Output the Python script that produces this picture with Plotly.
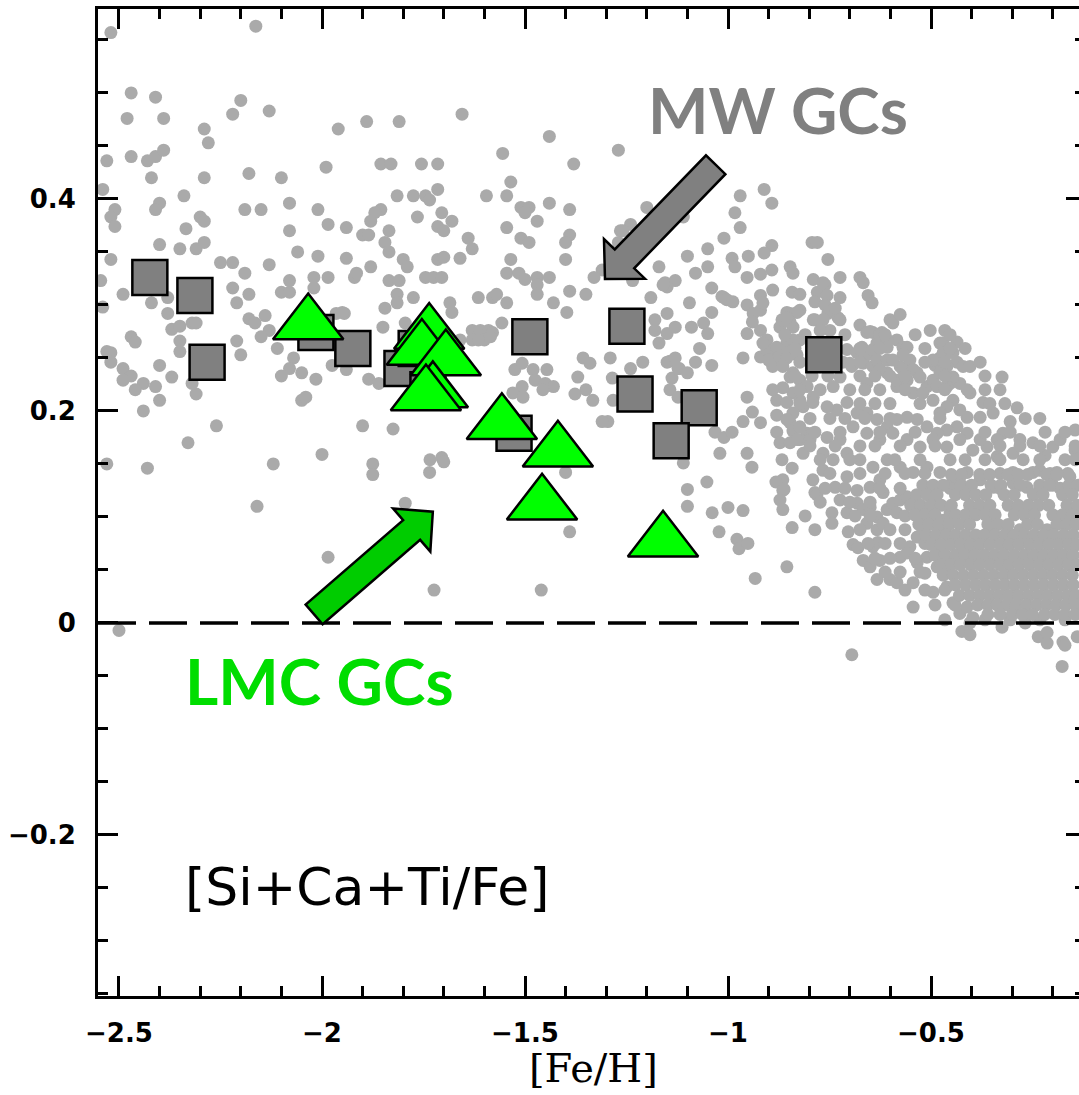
import math
import plotly.graph_objects as go

# ---------------- data ----------------
# Milky Way globular clusters ([Fe/H], [Si+Ca+Ti/Fe])
mw_feh = [-2.424, -2.313, -2.283, -2.015, -1.924, -1.803, -1.768, -1.739,
          -1.488, -1.527, -1.249, -1.229, -1.071, -1.140, -0.764]
mw_alpha = [0.326, 0.309, 0.246, 0.274, 0.259, 0.240, 0.259, 0.220,
            0.270, 0.179, 0.280, 0.216, 0.203, 0.172, 0.253]

# LMC globular clusters
lmc_feh = [-2.034, -1.736, -1.754, -1.695, -1.727, -1.744, -1.557, -1.419, -1.458, -1.160]
lmc_alpha = [0.282, 0.273, 0.258, 0.248, 0.218, 0.215, 0.188, 0.162, 0.112, 0.077]

# Field stars, metal-poor part
field_poor = [
    (-2.52, 0.557), (-2.163, 0.563), (-2.47, 0.50), (-2.41, 0.496), (-2.48, 0.476), (-2.39, 0.476),
    (-2.20, 0.493), (-2.22, 0.48), (-2.13, 0.483), (-2.29, 0.466), (-2.28, 0.453), (-1.96, 0.466),
    (-1.89, 0.473), (-1.81, 0.473), (-2.53, 0.436), (-2.47, 0.44), (-2.43, 0.436), (-2.41, 0.44),
    (-2.39, 0.446), (-2.42, 0.42), (-2.29, 0.42), (-2.18, 0.424), (-2.10, 0.42), (-1.99, 0.43),
    (-1.855, 0.433), (-1.83, 0.433), (-2.54, 0.409), (-2.34, 0.403), (-1.815, 0.403), (-2.51, 0.39),
    (-2.52, 0.383), (-2.51, 0.374), (-2.40, 0.396), (-2.41, 0.39), (-2.19, 0.39), (-2.15, 0.39),
    (-2.08, 0.396), (-2.01, 0.39), (-2.30, 0.383), (-2.29, 0.379), (-2.335, 0.372), (-2.08, 0.37),
    (-1.985, 0.376), (-1.94, 0.373), (-1.855, 0.39), (-1.87, 0.387), (-1.88, 0.379), (-1.90, 0.366),
    (-1.885, 0.366), (-1.835, 0.37), (-1.845, 0.359), (-1.835, 0.35), (-2.40, 0.357), (-2.35, 0.353),
    (-2.31, 0.353), (-2.29, 0.359), (-2.06, 0.35), (-2.01, 0.346), (-1.94, 0.344), (-1.88, 0.336),
    (-1.80, 0.343), (-1.79, 0.336), (-2.52, 0.343), (-2.25, 0.34), (-2.22, 0.34), (-2.13, 0.338),
    (-2.19, 0.33), (-2.08, 0.323), (-2.02, 0.326), (-1.985, 0.326), (-1.92, 0.326), (-1.915, 0.33),
    (-1.835, 0.323), (-1.81, 0.323), (-1.815, 0.31), (-1.815, 0.302), (-2.545, 0.323), (-2.22, 0.316),
    (-2.18, 0.31), (-2.21, 0.302), (-2.10, 0.312), (-2.08, 0.312), (-2.02, 0.316), (-2.49, 0.31),
    (-2.42, 0.302), (-2.38, 0.307), (-1.845, 0.297), (-2.54, 0.298),
    (-1.655, 0.48), (-1.44, 0.459), (-1.27, 0.446), (-1.555, 0.443), (-1.38, 0.433), (-1.755, 0.433),
    (-1.715, 0.433), (-1.535, 0.416), (-1.715, 0.409), (-1.775, 0.403), (-1.745, 0.403), (-1.735, 0.399),
    (-1.595, 0.403), (-1.545, 0.403), (-1.44, 0.396), (-1.51, 0.392), (-1.49, 0.392), (-1.50, 0.387),
    (-1.39, 0.39), (-1.20, 0.392), (-1.765, 0.383), (-1.705, 0.387), (-1.68, 0.379), (-1.47, 0.379),
    (-1.715, 0.374), (-1.70, 0.37), (-1.545, 0.373), (-1.265, 0.37), (-1.24, 0.376), (-1.11, 0.383),
    (-1.64, 0.363), (-1.63, 0.353), (-1.51, 0.363), (-1.49, 0.359), (-1.39, 0.366), (-1.40, 0.359),
    (-1.27, 0.359), (-1.01, 0.363), (-1.05, 0.353), (-1.10, 0.346), (-1.715, 0.343), (-1.70, 0.345),
    (-1.66, 0.344), (-1.535, 0.343), (-1.40, 0.343), (-1.31, 0.333), (-1.33, 0.326), (-1.17, 0.336),
    (-1.05, 0.336), (-1.08, 0.33), (-1.745, 0.326), (-1.725, 0.326), (-1.705, 0.326), (-1.545, 0.33),
    (-1.515, 0.33), (-1.50, 0.324), (-1.47, 0.326), (-1.47, 0.319), (-1.44, 0.326), (-1.155, 0.321),
    (-1.13, 0.323), (-1.15, 0.317), (-1.04, 0.316), (-1.235, 0.323), (-1.47, 0.31), (-1.39, 0.313),
    (-1.35, 0.31), (-1.615, 0.307), (-1.58, 0.307), (-1.57, 0.31), (-1.545, 0.302), (-1.43, 0.302),
    (-1.19, 0.307), (-1.095, 0.302), (-1.01, 0.307), (-1.775, 0.307), (-1.685, 0.302),
    (-2.38, 0.292), (-2.37, 0.277), (-2.35, 0.28), (-2.32, 0.283), (-2.31, 0.283), (-2.47, 0.27),
    (-2.46, 0.265), (-2.35, 0.266), (-2.35, 0.256), (-2.53, 0.256), (-2.52, 0.255), (-2.52, 0.246),
    (-2.49, 0.24), (-2.47, 0.233), (-2.49, 0.229), (-2.44, 0.226), (-2.46, 0.22), (-2.41, 0.223),
    (-2.40, 0.243), (-2.37, 0.232), (-2.40, 0.21), (-2.44, 0.20), (-2.31, 0.216), (-2.32, 0.226),
    (-2.21, 0.266), (-2.20, 0.253), (-2.18, 0.287), (-2.165, 0.283), (-2.14, 0.29), (-2.13, 0.276),
    (-2.15, 0.27), (-2.11, 0.259), (-2.07, 0.25), (-2.08, 0.24), (-2.05, 0.236), (-2.10, 0.233),
    (-2.015, 0.23), (-2.05, 0.21), (-2.04, 0.213), (-2.26, 0.186), (-2.33, 0.17), (-2.53, 0.15),
    (-2.43, 0.146), (-2.12, 0.15), (-2.00, 0.159), (-2.16, 0.11), (-1.985, 0.062), (-1.90, 0.186),
    (-1.825, 0.183), (-1.875, 0.15), (-1.875, 0.14), (-1.795, 0.113), (-1.885, 0.23), (-1.86, 0.226),
    (-1.85, 0.279), (-1.795, 0.283), (-1.945, 0.292), (-1.965, 0.292), (-1.975, 0.243), (-1.94, 0.239),
    (-2.50, -0.007),
    (-1.95, 0.293), (-1.734, 0.154), (-1.705, 0.156), (-1.70, 0.152), (-1.735, 0.142), (-1.68, 0.293),
    (-1.63, 0.276), (-1.61, 0.276), (-1.60, 0.267), (-1.59, 0.276), (-1.58, 0.274), (-1.585, 0.27),
    (-1.63, 0.267), (-1.615, 0.267), (-1.557, 0.283), (-1.66, 0.267), (-1.667, 0.26), (-1.397, 0.293),
    (-1.357, 0.25), (-1.34, 0.245), (-1.37, 0.232), (-1.35, 0.22), (-1.377, 0.216), (-1.333, 0.21),
    (-1.525, 0.239), (-1.507, 0.245), (-1.48, 0.239), (-1.446, 0.239), (-1.475, 0.229), (-1.45, 0.226),
    (-1.43, 0.223), (-1.456, 0.22), (-1.507, 0.223), (-1.53, 0.217), (-1.505, 0.213), (-1.29, 0.25),
    (-1.24, 0.24), (-1.21, 0.246), (-1.285, 0.231), (-1.296, 0.19), (-1.31, 0.19), (-1.283, 0.21),
    (-1.18, 0.286), (-1.18, 0.276), (-1.15, 0.292), (-1.15, 0.273), (-1.13, 0.279), (-1.16, 0.319),
    (-1.12, 0.24), (-1.143, 0.247), (-1.08, 0.246), (-1.138, 0.231), (-1.143, 0.22), (-1.11, 0.151),
    (-1.10, 0.126), (-1.10, 0.11), (-1.39, 0.086), (-1.40, 0.142), (-1.46, 0.031), (-1.724, 0.031),
    (-1.259, 0.37), (-1.17, 0.264), (-1.09, 0.279), (-1.06, 0.283), (-1.04, 0.293), (-1.05, 0.273),
    (-1.07, 0.259), (-1.015, 0.308), (-1.003, 0.305), (-1.15, 0.246), (-1.13, 0.25), (-1.123, 0.24),
    (-1.10, 0.236), (-1.04, 0.243), (-1.123, 0.213), (-1.032, 0.18), (-1.01, 0.175), (-1.02, 0.16),
    (-1.039, 0.104), (-1.000, 0.109), (-1.022, 0.086), (-1.052, 0.133),
]

# Field stars, metal-rich part
field_rich = [
    (-0.97, 0.403), (-0.911, 0.409), (-0.892, 0.396), (-0.983, 0.387), (-0.97, 0.373), (-0.892, 0.356),
    (-0.911, 0.349), (-0.95, 0.346), (-0.892, 0.333), (-0.92, 0.329), (-0.953, 0.326), (-0.92, 0.309),
    (-0.89, 0.314), (-0.847, 0.336), (-0.84, 0.33), (-0.842, 0.312), (-0.823, 0.31), (-0.793, 0.359),
    (-0.78, 0.359), (-0.79, 0.324), (-0.78, 0.312), (-0.988, 0.303), (-0.953, 0.30), (-0.938, 0.292),
    (-0.92, 0.295), (-0.94, 0.284), (-0.914, 0.302), (-0.953, 0.273), (-0.92, 0.276), (-0.904, 0.267),
    (-0.89, 0.255), (-0.92, 0.251), (-0.89, 0.242), (-0.855, 0.264), (-0.84, 0.279), (-0.872, 0.279),
    (-0.847, 0.292), (-0.823, 0.295), (-0.79, 0.286), (-0.963, 0.25), (-0.953, 0.213), (-0.963, 0.19),
    (-0.94, 0.199), (-0.92, 0.189), (-0.88, 0.196), (-0.88, 0.18), (-0.872, 0.17), (-0.815, 0.16),
    (-0.847, 0.17), (-0.99, 0.18), (-0.953, 0.16), (-0.84, 0.181), (-0.805, 0.179), (-0.847, 0.189),
    (-0.815, 0.204), (-0.79, 0.213), (-0.904, 0.258), (-0.88, 0.26), (-0.90, 0.248), (-0.855, 0.255),
    (-0.84, 0.236), (-0.823, 0.229), (-0.805, 0.223), (-0.84, 0.217), (-0.865, 0.222), (-0.88, 0.21),
    (-0.823, 0.21), (-0.84, 0.198), (-0.89, 0.22), (-0.99, 0.344), (-0.983, 0.336), (-0.754, 0.343),
    (-0.761, 0.319), (-0.756, 0.309), (-0.724, 0.326), (-0.675, 0.326), (-0.667, 0.321), (-0.655, 0.309),
    (-0.645, 0.302), (-0.855, 0.293), (-0.830, 0.293), (-0.847, 0.284), (-0.867, 0.286), (-0.786, 0.303),
    (-0.761, 0.30), (-0.754, 0.292), (-0.729, 0.288), (-0.724, 0.307), (-0.675, 0.281), (-0.658, 0.274),
    (-0.643, 0.274), (-0.621, 0.274), (-0.601, 0.286), (-0.594, 0.283), (-0.576, 0.291), (-0.584, 0.267),
    (-0.569, 0.26), (-0.608, 0.26), (-0.633, 0.264), (-0.502, 0.276), (-0.466, 0.276), (-0.436, 0.265),
    (-0.478, 0.264), (-0.458, 0.255), (-0.436, 0.246), (-0.421, 0.242), (-0.478, 0.25), (-0.490, 0.243),
    (-0.325, 0.232), (-0.914, 0.264), (-0.872, 0.251), (-0.855, 0.25), (-0.823, 0.267), (-0.707, 0.258),
    (-0.682, 0.255), (-0.717, 0.246), (-0.700, 0.245), (-0.667, 0.245), (-0.643, 0.242), (-0.608, 0.236),
    (-0.576, 0.242), (-0.552, 0.248), (-0.534, 0.236), (-0.510, 0.223), (-0.495, 0.229), (-0.453, 0.226),
    (-0.429, 0.226), (-0.404, 0.217), (-0.741, 0.223), (-0.724, 0.232), (-0.658, 0.226), (-0.626, 0.22),
    (-0.584, 0.223), (-0.544, 0.217), (-0.766, 0.321), (-0.736, 0.297), (-0.855, 0.288), (-0.786, 0.286),
    (-0.766, 0.286), (-0.724, 0.286), (-0.749, 0.276), (-0.773, 0.276), (-0.650, 0.275), (-0.626, 0.272),
    (-0.608, 0.267), (-0.559, 0.26), (-0.569, 0.253), (-0.470, 0.264), (-0.840, 0.267), (-0.830, 0.253),
    (-0.865, 0.242), (-0.847, 0.232), (-0.695, 0.242), (-0.670, 0.260), (-0.658, 0.253), (-0.643, 0.258),
    (-0.633, 0.248), (-0.626, 0.239), (-0.608, 0.248), (-0.594, 0.248), (-0.569, 0.239), (-0.544, 0.239),
    (-0.584, 0.229), (-0.559, 0.229), (-0.527, 0.232), (-0.520, 0.217), (-0.495, 0.248), (-0.470, 0.255),
    (-0.446, 0.255), (-0.404, 0.242), (-0.461, 0.242), (-0.478, 0.236), (-0.446, 0.232), (-0.411, 0.220),
    (-0.461, 0.223), (-0.485, 0.223), (-0.495, 0.210), (-0.372, 0.208), (-0.347, 0.198), (-0.379, 0.194),
    (-0.411, 0.194), (-0.429, 0.201), (-0.446, 0.210), (-0.461, 0.204), (-0.478, 0.198), (-0.288, 0.203),
    (-0.305, 0.190), (-0.323, 0.179), (-0.337, 0.173), (-0.281, 0.173), (-0.249, 0.170), (-0.200, 0.166),
    (-0.298, 0.160), (-0.273, 0.154), (-0.232, 0.144), (-0.190, 0.142), (-0.158, 0.138), (-0.249, 0.142),
    (-0.298, 0.142), (-0.337, 0.157), (-0.362, 0.166), (-0.379, 0.173), (-0.411, 0.179), (-0.436, 0.185),
    (-0.461, 0.182), (-0.485, 0.179), (-0.510, 0.185), (-0.534, 0.192), (-0.559, 0.194), (-0.584, 0.192),
    (-0.608, 0.185), (-0.633, 0.192), (-0.658, 0.198), (-0.682, 0.198), (-0.707, 0.208), (-0.732, 0.201),
    (-0.756, 0.204), (-0.791, 0.208), (-0.855, 0.208), (-0.855, 0.192), (-0.823, 0.185), (-0.791, 0.179),
    (-0.823, 0.173), (-0.756, 0.175), (-0.724, 0.173), (-0.692, 0.185), (-0.658, 0.179), (-0.626, 0.173),
    (-0.594, 0.179), (-0.559, 0.173), (-0.527, 0.166), (-0.495, 0.173), (-0.461, 0.166), (-0.429, 0.173),
    (-0.397, 0.163), (-0.330, 0.154), (-0.766, 0.160), (-0.741, 0.154), (-0.707, 0.160), (-0.675, 0.154),
    (-0.643, 0.147), (-0.608, 0.154), (-0.576, 0.147), (-0.544, 0.142), (-0.510, 0.147), (-0.478, 0.142),
    (-0.446, 0.135), (-0.411, 0.142), (-0.379, 0.135), (-0.347, 0.128), (-0.298, 0.132), (-0.264, 0.128),
    (-0.842, 0.146), (-0.791, 0.135), (-0.707, 0.138), (-0.626, 0.135), (-0.219, 0.158), (-0.170, 0.154),
    (-0.145, 0.163), (-0.182, 0.173), (-0.145, 0.182), (-0.20, 0.13), (-0.165, 0.125),
    (-0.842, 0.090), (-0.855, 0.053), (-0.786, 0.029), (-0.786, 0.123), (-0.695, -0.030), (-0.865, 0.125),
    (-0.865, 0.107), (-0.744, 0.104), (-0.744, 0.094), (-0.724, 0.116), (-0.704, 0.086), (-0.692, 0.074),
    (-0.680, 0.071), (-0.707, 0.104), (-0.682, 0.113), (-0.667, 0.107), (-0.650, 0.109), (-0.633, 0.100),
    (-0.658, 0.094), (-0.633, 0.088), (-0.618, 0.094), (-0.608, 0.107), (-0.594, 0.113), (-0.576, 0.116),
    (-0.559, 0.119), (-0.584, 0.104), (-0.601, 0.088), (-0.643, 0.072), (-0.631, 0.076), (-0.626, 0.059),
    (-0.667, 0.059), (-0.650, 0.053), (-0.633, 0.041), (-0.601, 0.041), (-0.584, 0.038), (-0.576, 0.062),
    (-0.552, 0.072), (-0.534, 0.081), (-0.520, 0.088), (-0.502, 0.081), (-0.485, 0.091), (-0.470, 0.097),
    (-0.453, 0.104), (-0.478, 0.072), (-0.510, 0.062), (-0.534, 0.057), (-0.559, 0.066), (-0.544, 0.038),
    (-0.544, 0.015), (-0.515, 0.047), (-0.495, 0.029), (-0.461, 0.034), (-0.446, 0.019), (-0.429, 0.009),
    (-0.411, 0.015), (-0.404, 0.000), (-0.424, -0.008), (-0.404, -0.011), (-0.485, 0.053), (-0.461, 0.050),
    (-0.429, 0.059), (-0.411, 0.069), (-0.379, 0.081), (-0.347, 0.088), (-0.313, 0.091), (-0.281, 0.088),
    (-0.249, 0.081), (-0.214, 0.088), (-0.182, 0.094), (-0.158, 0.097), (-0.140, 0.100), (-0.325, -0.004),
    (-0.268, 0.000), (-0.236, -0.013), (-0.214, -0.019), (-0.214, -0.009), (-0.175, -0.018), (-0.170, -0.021),
    (-0.140, -0.013), (-0.177, -0.041), (-0.865, 0.135), (-0.781, 0.121), (-0.933, 0.042), (-0.963, 0.106),
    (-0.978, 0.079), (-0.973, 0.070), (-0.951, 0.075), (-0.882, 0.133), (-0.862, 0.126), (-0.872, 0.116),
    (-0.941, 0.147), (-0.830, 0.173), (-0.798, 0.173), (-0.867, 0.154), (-0.397, 0.005), (-0.682, 0.125),
    (-0.650, 0.128), (-0.618, 0.123), (-0.736, 0.128), (-0.766, 0.144),
]

# Field stars filling the metal-rich band (rows)
field_band_rows = [
    (0.272, [-0.860, -0.810, -0.712, -0.613, -0.539, -0.453]),
    (0.259, [-0.835, -0.773, -0.736, -0.675, -0.626, -0.515, -0.453, -0.416]),
    (0.246, [-0.823, -0.786, -0.749, -0.675, -0.515, -0.466, -0.379]),
    (0.233, [-0.835, -0.793, -0.754, -0.675, -0.638, -0.601, -0.564, -0.466, -0.367]),
    (0.220, [-0.823, -0.773, -0.700, -0.663, -0.564, -0.466, -0.367, -0.330]),
    (0.207, [-0.823, -0.675, -0.638, -0.601, -0.527, -0.355, -0.318]),
    (0.193, [-0.798, -0.749, -0.712, -0.663, -0.601, -0.478, -0.268, -0.232]),
    (0.180, [-0.786, -0.724, -0.626, -0.539, -0.367, -0.305, -0.219, -0.170]),
    (0.167, [-0.798, -0.736, -0.675, -0.638, -0.576, -0.490, -0.330, -0.281, -0.232, -0.145]),
    (0.154, [-0.773, -0.700, -0.589, -0.527, -0.453, -0.416, -0.367, -0.232, -0.145]),
    (0.141, [-0.749, -0.675, -0.613, -0.564, -0.515, -0.330, -0.207, -0.163]),
    (0.127, [-0.761, -0.712, -0.626, -0.576, -0.453, -0.330, -0.232, -0.182]),
    (0.114, [-0.773, -0.700, -0.650, -0.539, -0.490]),
    (0.101, [-0.810, -0.687, -0.650, -0.564, -0.515, -0.453]),
    (0.088, [-0.786, -0.675, -0.564, -0.466]),
    (0.075, [-0.655, -0.613, -0.576, -0.515]),
    (0.061, [-0.638, -0.601, -0.539, -0.478]),
    (0.048, [-0.613, -0.576, -0.527]),
    (0.031, [-0.564, -0.515, -0.466]),
    (0.017, [-0.490, -0.441]),
    (0.003, [-0.466, -0.367, -0.305, -0.232, -0.170]),
]

# Field stars, densest metal-rich clump (rows)
field_clump_rows = [
    (0.140, [-0.45, -0.425, -0.38, -0.356, -0.31, -0.285, -0.262, -0.215, -0.19]),
    (0.130, [-0.52, -0.495, -0.47, -0.425, -0.40, -0.352, -0.328, -0.28, -0.232, -0.208, -0.16, -0.138]),
    (0.121, [-0.535, -0.51, -0.485, -0.44, -0.415, -0.39, -0.365, -0.32, -0.295, -0.248, -0.224, -0.176, -0.152]),
    (0.111, [-0.55, -0.525, -0.50, -0.475, -0.45, -0.405, -0.38, -0.355, -0.31, -0.285, -0.26, -0.235, -0.21, -0.165, -0.14]),
    (0.102, [-0.54, -0.515, -0.49, -0.44, -0.415, -0.39, -0.366, -0.342, -0.295, -0.27, -0.245, -0.20, -0.176, -0.152]),
    (0.093, [-0.53, -0.505, -0.48, -0.455, -0.43, -0.405, -0.36, -0.335, -0.31, -0.262, -0.238, -0.19, -0.165, -0.142]),
    (0.083, [-0.512, -0.488, -0.462, -0.44, -0.415, -0.39, -0.368, -0.343, -0.318, -0.295, -0.27, -0.246, -0.222, -0.198, -0.173, -0.15]),
    (0.074, [-0.50, -0.475, -0.452, -0.428, -0.403, -0.38, -0.355, -0.33, -0.307, -0.283, -0.258, -0.234, -0.21, -0.186, -0.162, -0.14]),
    (0.064, [-0.49, -0.465, -0.44, -0.417, -0.392, -0.368, -0.343, -0.32, -0.295, -0.27, -0.246, -0.222, -0.198, -0.174, -0.15]),
    (0.055, [-0.475, -0.45, -0.428, -0.403, -0.38, -0.355, -0.33, -0.307, -0.283, -0.258, -0.234, -0.21, -0.186, -0.162, -0.14]),
    (0.045, [-0.47, -0.445, -0.42, -0.395, -0.37, -0.345, -0.32, -0.296, -0.272, -0.248, -0.224, -0.20, -0.176, -0.152]),
    (0.036, [-0.44, -0.415, -0.39, -0.366, -0.342, -0.318, -0.294, -0.27, -0.246, -0.222, -0.198, -0.174, -0.15]),
    (0.026, [-0.43, -0.405, -0.38, -0.356, -0.332, -0.308, -0.284, -0.26, -0.236, -0.212, -0.188, -0.164, -0.142]),
    (0.017, [-0.385, -0.36, -0.337, -0.313, -0.29, -0.265, -0.24, -0.216, -0.192, -0.168, -0.145]),
    (0.008, [-0.36, -0.33, -0.30, -0.275, -0.25, -0.22, -0.195, -0.17, -0.145]),
]

x_ticks = [-2.5, -2.0, -1.5, -1.0, -0.5]
y_ticks = [-0.2, 0.0, 0.2, 0.4]

# ---------------- figure geometry ----------------
W, H = 1079, 1095
ML, MR, MT, MB = 98, 0, 9, 99
XR = [-2.5517, -0.1355]
YR = [-0.3519, 0.5792]

field_x = [p[0] for p in field_poor] + [p[0] for p in field_rich]
field_y = [p[1] for p in field_poor] + [p[1] for p in field_rich]
for yv, xs in field_band_rows + field_clump_rows:
    field_x += xs
    field_y += [yv] * len(xs)

fig = go.Figure()

fig.add_trace(go.Scatter(
    x=field_x, y=field_y, mode="markers",
    marker=dict(size=13, color="#aaaaaa", line=dict(width=0)),
    hoverinfo="skip", showlegend=False))

fig.add_trace(go.Scatter(
    x=mw_feh, y=mw_alpha, mode="markers",
    marker=dict(symbol="square", size=35, color="#808080",
                line=dict(color="black", width=2.5)),
    hoverinfo="skip", showlegend=False))

fig.add_trace(go.Scatter(
    x=lmc_feh, y=lmc_alpha, mode="markers",
    marker=dict(symbol="triangle-up", size=61, color="#00ff00",
                line=dict(color="black", width=2.5)),
    hoverinfo="skip", showlegend=False))

# dummy trace to hold the right-hand tick axis
fig.add_trace(go.Scatter(x=[None], y=[None], yaxis="y2", showlegend=False, hoverinfo="skip"))

tickfont = dict(family="DejaVu Sans", size=26, color="black", weight="bold")

fig.update_layout(
    width=W, height=H,
    margin=dict(l=ML, r=MR, t=MT, b=MB, pad=0),
    paper_bgcolor="white", plot_bgcolor="white",
    showlegend=False, hovermode=False,
    xaxis=dict(
        range=XR, showgrid=False, zeroline=False,
        showline=True, linecolor="black", linewidth=3, mirror="ticks",
        ticks="inside", ticklen=20, tickwidth=3, tickcolor="black",
        tickmode="array", tickvals=x_ticks,
        tickfont=tickfont, ticklabelstandoff=12,
        minor=dict(dtick=0.1, tick0=-2.5, ticks="inside", ticklen=10,
                   tickwidth=3, tickcolor="black", showgrid=False),
    ),
    yaxis=dict(
        range=YR, showgrid=False, zeroline=False,
        showline=True, linecolor="black", linewidth=3, mirror=False,
        ticks="inside", ticklen=20, tickwidth=3, tickcolor="black",
        tickmode="array", tickvals=y_ticks,
        tickfont=tickfont, ticklabelstandoff=14,
        minor=dict(dtick=0.05, tick0=0, ticks="inside", ticklen=10,
                   tickwidth=3, tickcolor="black", showgrid=False),
    ),
    yaxis2=dict(
        range=YR, overlaying="y", side="right", showgrid=False, zeroline=False,
        showline=False, showticklabels=False,
        ticks="inside", ticklen=13, tickwidth=3, tickcolor="black",
        tickmode="array", tickvals=y_ticks,
        minor=dict(dtick=0.05, tick0=0, ticks="inside", ticklen=4,
                   tickwidth=3, tickcolor="black", showgrid=False),
    ),
)

# dashed zero line
fig.add_shape(type="line", xref="paper", yref="y", x0=0, x1=1, y0=0, y1=0,
              line=dict(color="black", width=3.5, dash="38px,13px"), layer="above")


def fat_arrow(tip_x, tip_y, dir_px, length, head_len, head_w, shaft_w, fill):
    """Block arrow anchored at its tip (data coords), drawn in pixel units."""
    dx, dy = dir_px
    n = math.hypot(dx, dy)
    ux, uy = dx / n, dy / n
    nx, ny = -uy, ux
    pts = [
        (0.0, 0.0),
        (ux * head_len + nx * head_w / 2, uy * head_len + ny * head_w / 2),
        (ux * head_len + nx * shaft_w / 2, uy * head_len + ny * shaft_w / 2),
        (ux * length + nx * shaft_w / 2, uy * length + ny * shaft_w / 2),
        (ux * length - nx * shaft_w / 2, uy * length - ny * shaft_w / 2),
        (ux * head_len - nx * shaft_w / 2, uy * head_len - ny * shaft_w / 2),
        (ux * head_len - nx * head_w / 2, uy * head_len - ny * head_w / 2),
    ]
    path = "M " + " L ".join(f"{px:.1f},{py:.1f}" for px, py in pts) + " Z"
    fig.add_shape(type="path", xref="x", yref="y",
                  xsizemode="pixel", ysizemode="pixel",
                  xanchor=tip_x, yanchor=tip_y, path=path,
                  fillcolor=fill, line=dict(color="black", width=2.5), layer="above")


# arrow toward MW GCs (tip lower-left, tail upper-right)
fat_arrow(-1.303, 0.3245, (110.5, 114.0), 159, 28, 57, 27, "#808080")
# arrow toward LMC GCs (tip upper-right, tail lower-left)
fat_arrow(-1.727, 0.105, (-119.0, -103.0), 157, 28, 57, 26, "#00cc00")

fig.add_annotation(x=-0.877, y=0.484, xref="x", yref="y", text="MW GCs", showarrow=False,
                   font=dict(family="Lato", size=64, color="#808080", weight="bold"))
fig.add_annotation(x=-2.007, y=-0.054, xref="x", yref="y", text="LMC GCs", showarrow=False,
                   font=dict(family="Lato", size=64, color="#00dd00", weight="bold"))
fig.add_annotation(x=-1.889, y=-0.249, xref="x", yref="y", text="[Si+Ca+Ti/Fe]", showarrow=False,
                   font=dict(family="DejaVu Sans", size=52, color="black"))
fig.add_annotation(x=0.5046, y=-0.073, xref="paper", yref="paper", text="[Fe/H]", showarrow=False,
                   yanchor="middle", font=dict(family="DejaVu Serif", size=40, color="black"))

fig.write_html("out.html", config={"displayModeBar": False},
               post_script="document.body.style.margin='0';document.body.style.overflow='hidden';")
